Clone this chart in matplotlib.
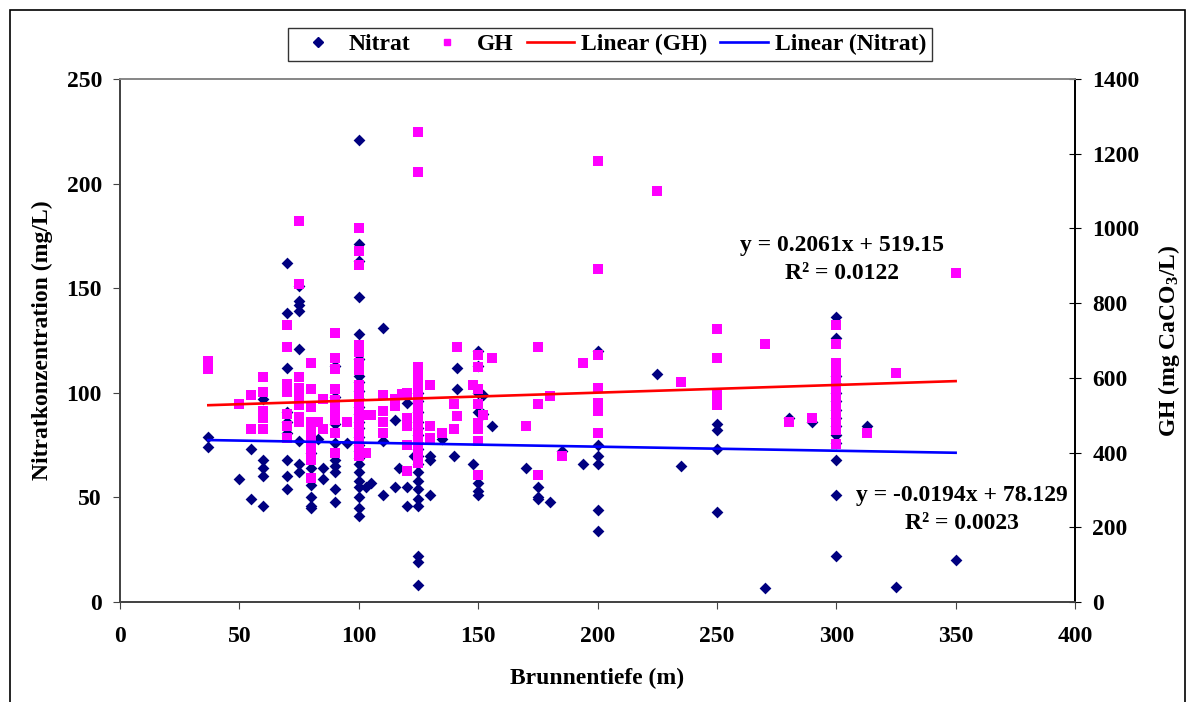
import numpy as np
import matplotlib
matplotlib.use("Agg")
import matplotlib.pyplot as plt
from matplotlib.lines import Line2D
from matplotlib.patches import Rectangle

plt.rcParams['font.family'] = ['Liberation Serif', 'DejaVu Serif']
plt.rcParams['font.weight'] = 'bold'
plt.rcParams['mathtext.fontset'] = 'custom'
plt.rcParams['mathtext.rm'] = 'Liberation Serif:bold'
plt.rcParams['mathtext.default'] = 'rm'

# Nitrat (mg/L) per well depth (m)
nitrat_depth = [37, 37, 50, 55, 55, 60, 60, 60, 60, 60,
                70, 70, 70, 70, 70, 70, 70, 70, 70,
                75, 75, 75, 75, 75, 75, 75, 75,
                80, 80, 80, 80, 80, 80, 83, 85, 85,
                90, 90, 90, 90, 90, 90, 90, 90, 90, 95,
                100, 100, 100, 100, 100, 100, 100, 100, 100, 100, 100, 100, 100,
                100, 100, 100, 100, 100, 100, 100, 100, 100, 100, 100, 100,
                103, 105, 110, 110, 110, 115, 115, 117, 120, 120, 120, 123,
                125, 125, 125, 125, 125, 125, 125, 125, 125, 125, 125, 125, 125,
                125, 125, 125, 125, 125,
                130, 130, 130, 135, 140, 141, 141, 148,
                150, 150, 150, 150, 150, 150, 150, 152, 152, 156,
                170, 175, 175, 175, 180, 185, 194,
                200, 200, 200, 200, 200, 200, 225, 235,
                250, 250, 250, 250, 270, 280, 290,
                300, 300, 300, 300, 300, 300, 300, 300, 300, 300, 300, 300, 300, 300,
                313, 325, 350]
nitrat = [79, 74, 59, 73, 49, 97, 68, 64, 60, 46,
          162, 138, 112, 91, 86, 81, 68, 60, 54,
          151, 144, 142, 139, 121, 77, 66, 62,
          71, 64, 56, 50, 46, 45, 78, 64, 59,
          113, 98, 85, 76, 68, 65, 62, 54, 48, 76,
          221, 171, 163, 146, 128, 116, 108, 105, 101, 97, 93, 90, 86,
          83, 79, 75, 72, 69, 66, 62, 58, 55, 50, 45, 41,
          55, 57, 131, 77, 51, 87, 55, 64, 95, 55, 46, 70,
          100, 96, 91, 86, 83, 80, 76, 73, 70, 66, 62, 58, 54,
          49, 46, 22, 19, 8,
          70, 68, 51, 78, 70, 112, 102, 66,
          120, 113, 100, 91, 57, 53, 51, 99, 90, 84,
          64, 55, 50, 49, 48, 72, 66,
          120, 75, 70, 66, 44, 34, 109, 65,
          85, 82, 73, 43, 6.5, 88, 86,
          136, 126, 108, 104, 100, 96, 92, 88, 84, 80, 76, 68, 51, 22,
          84, 7, 20]

# GH (mg CaCO3/L) per well depth (m)
gh_depth = [37, 37, 50, 55, 55, 60, 60, 60, 60, 60,
            70, 70, 70, 70, 70, 70, 70,
            75, 75, 75, 75, 75, 75, 75, 75,
            80, 80, 80, 80, 80, 80, 80, 80, 80, 83, 85, 85,
            90, 90, 90, 90, 90, 90, 90, 90, 90, 90, 95,
            100, 100, 100, 100, 100, 100, 100, 100, 100, 100, 100,
            100, 100, 100, 100, 100, 100, 100, 100, 100, 100,
            103, 103, 105, 110, 110, 110, 110, 115, 115, 118,
            120, 120, 120, 120, 120,
            125, 125, 125, 125, 125, 125, 125, 125, 125, 125,
            125, 125, 125, 125, 125, 125, 125, 125, 125, 125,
            130, 130, 130, 135, 140, 140, 141, 141, 148,
            150, 150, 150, 150, 150, 150, 150, 150, 152, 156,
            170, 175, 175, 175, 180, 185, 194,
            200, 200, 200, 200, 200, 200, 200, 225, 235,
            250, 250, 250, 250, 250, 270, 280, 290,
            300, 300, 300, 300, 300, 300, 300, 300, 300, 300, 300, 300, 300, 300, 300,
            313, 325, 350]
gh = [644, 623, 530, 553, 463, 602, 561, 512, 492, 463,
      742, 682, 583, 563, 503, 472, 440,
      1021, 850, 602, 574, 552, 528, 494, 482,
      641, 570, 523, 483, 461, 434, 407, 381, 332, 483, 543, 463,
      720, 653, 623, 571, 541, 523, 507, 488, 452, 400, 482,
      1002, 940, 902, 688, 670, 639, 621, 580, 565, 550, 535,
      520, 505, 490, 475, 460, 445, 430, 415, 400, 390,
      501, 399, 501, 553, 510, 482, 452, 544, 525, 556,
      559, 492, 470, 421, 352,
      1259, 1151, 630, 613, 595, 578, 560, 545, 530, 515,
      500, 485, 470, 455, 440, 425, 410, 395, 380, 372,
      581, 470, 440, 452, 530, 463, 682, 499, 581,
      660, 630, 571, 530, 479, 463, 430, 339, 501, 653,
      470, 682, 530, 339, 552, 392, 641,
      1181, 891, 660, 573, 532, 510, 452, 1099, 589,
      730, 653, 555, 541, 528, 690, 482, 492,
      742, 690, 639, 620, 600, 585, 570, 555, 540, 525, 510, 495, 480, 461, 423,
      452, 612, 880]

# linear trend coefficients as printed on the chart
gh_slope, gh_icpt, gh_r2 = 0.2061, 519.15, 0.0122
ni_slope, ni_icpt, ni_r2 = -0.0194, 78.129, 0.0023

W, H = 1194, 702
fig = plt.figure(figsize=(W / 100, H / 100), dpi=100)
fig.patches.append(Rectangle((10 / W, -0.05), 1175 / W, 1.05 - 10 / H, transform=fig.transFigure,
                             fill=False, edgecolor='black', linewidth=1.2))

ax = fig.add_axes([120 / W, (H - 602) / H, 955 / W, 523 / H])
ax2 = ax.twinx()

ax.scatter(nitrat_depth, nitrat, marker='D', s=36, color='#000080', linewidths=0, zorder=2)
ax2.scatter(gh_depth, gh, marker='s', s=46, color='#FF00FF', linewidths=0, zorder=2)

xr = np.array([min(gh_depth), max(gh_depth)])
ax2.plot(xr, gh_slope * xr + gh_icpt, color='#FF0000', lw=1.9, zorder=3)
ax2.plot(xr, ni_slope * xr + ni_icpt, color='#0000FF', lw=1.9, zorder=3, transform=ax.transData)

ax.set_xlim(0, 400)
ax.set_ylim(0, 250)
ax2.set_ylim(0, 1400)
ax.set_xticks(np.arange(0, 401, 50))
ax.set_yticks(np.arange(0, 251, 50))
ax2.set_yticks(np.arange(0, 1401, 200))

fs = 17
ax.tick_params(axis='x', direction='out', length=5, labelsize=fs, pad=12, color='#444444')
ax.tick_params(axis='y', direction='out', length=5, labelsize=fs, pad=8, color='#444444')
ax2.tick_params(axis='y', direction='inout', length=9, labelsize=fs, pad=8)
for lab in ax.get_xticklabels() + ax.get_yticklabels() + ax2.get_yticklabels():
    lab.set_fontweight('bold')

for a in (ax, ax2):
    a.spines['top'].set_color('#888888')
    a.spines['left'].set_color('#444444')
    a.spines['bottom'].set_color('#444444')
    a.spines['right'].set_color('black')
    for s in a.spines.values():
        s.set_linewidth(1.3)

ax.set_xlabel('Brunnentiefe (m)', fontsize=fs, fontweight='bold', labelpad=15)
ax.set_ylabel('Nitratkonzentration (mg/L)', fontsize=fs, fontweight='bold', labelpad=10)
ax2.set_ylabel('GH (mg CaCO$_3$/L)', fontsize=fs, fontweight='bold', labelpad=12)

ax.text(0.756, 0.655, f'y = {gh_slope}x + {gh_icpt}\nR\u00b2 = {gh_r2}', transform=ax.transAxes,
        ha='center', va='center', fontsize=fs, fontweight='bold', linespacing=1.45)
ax.text(0.882, 0.177, f'y = {ni_slope}x + {ni_icpt}\nR\u00b2 = {ni_r2}', transform=ax.transAxes,
        ha='center', va='center', fontsize=fs, fontweight='bold', linespacing=1.45)

handles = [
    Line2D([], [], marker='D', ls='none', color='#000080', markersize=5),
    Line2D([], [], marker='s', ls='none', color='#FF00FF', markersize=5),
    Line2D([], [], color='#FF0000', lw=1.9),
    Line2D([], [], color='#0000FF', lw=1.9),
]
leg = fig.legend(handles, ['Nitrat', 'GH', 'Linear (GH)', 'Linear (Nitrat)'], ncol=4,
                 loc='center', bbox_to_anchor=(610 / W, 1 - 44.5 / H), frameon=True, fancybox=False,
                 prop={'size': fs, 'weight': 'bold'}, handlelength=2.0, handletextpad=0.3,
                 columnspacing=0.55, borderpad=0.25)
leg.get_frame().set_edgecolor('black')
leg.get_frame().set_linewidth(1.0)

fig.savefig('out.png', dpi=100)
